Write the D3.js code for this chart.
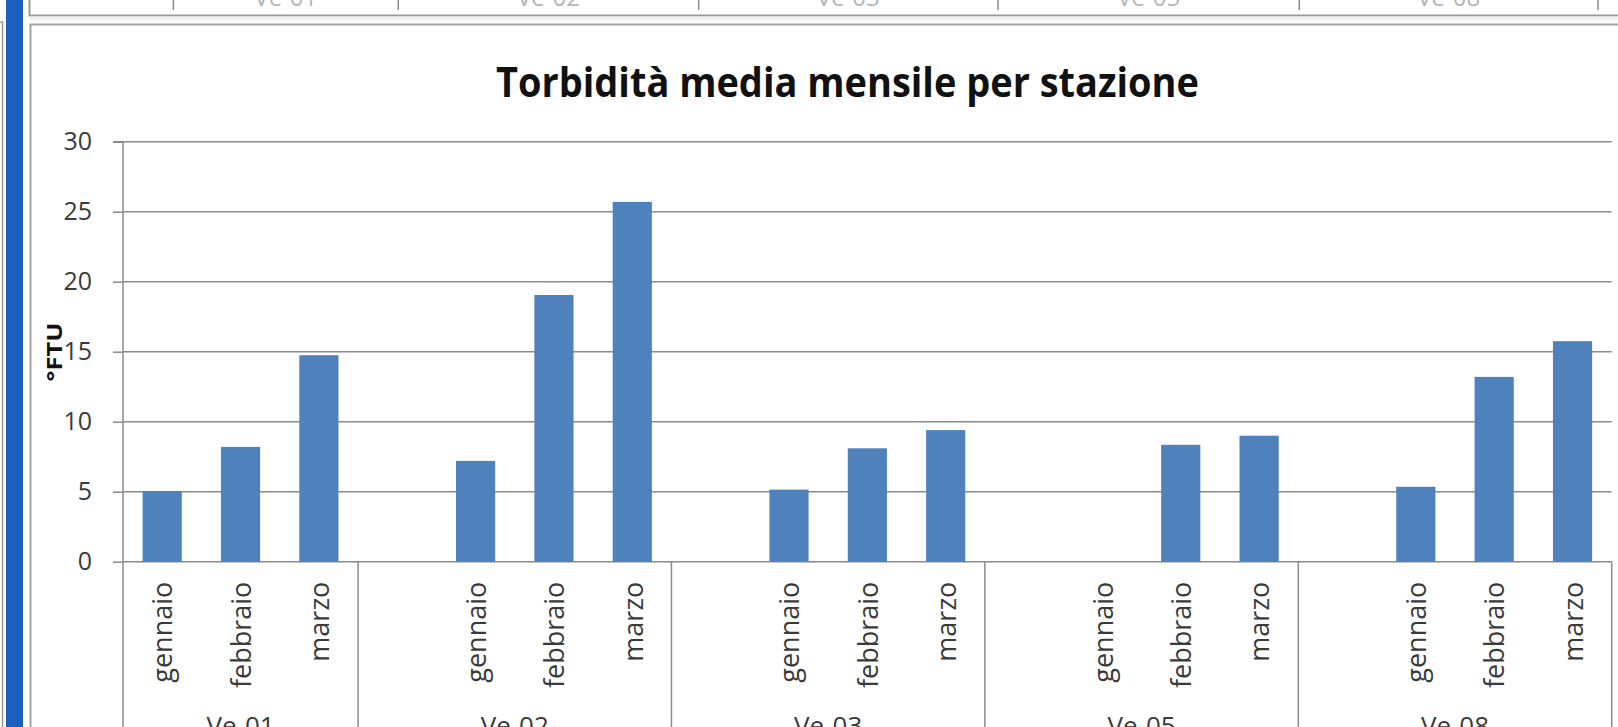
<!DOCTYPE html>
<html><head><meta charset="utf-8">
<script src="https://cdn.jsdelivr.net/npm/d3@7"></script>
<style>html,body{margin:0;padding:0;background:#fff;overflow:hidden}svg{display:block}</style>
</head><body>
<svg id="c" width="1618" height="727"></svg>
<script>
// ---- data ----
const stations = ["Ve-01","Ve-02","Ve-03","Ve-05","Ve-08"];
const slotStation = ["Ve-01","Ve-01","Ve-01","Ve-02","Ve-02","Ve-02","Ve-02","Ve-03","Ve-03","Ve-03","Ve-03","Ve-05","Ve-05","Ve-05","Ve-05","Ve-08","Ve-08","Ve-08","Ve-08"];
const slotMonth = ["gennaio","febbraio","marzo","","gennaio","febbraio","marzo","","gennaio","febbraio","marzo","","gennaio","febbraio","marzo","","gennaio","febbraio","marzo"];
const values = [5.05,8.2,14.75,null,7.2,19.05,25.7,null,5.15,8.1,9.4,null,null,8.35,9.0,null,5.35,13.2,15.75];
const yTicks = [0,5,10,15,20,25,30];
const title = "Torbidità media mensile per stazione";
const yLabel = "°FTU";

// ---- layout ----
const W = 1618, H = 727;
const P = {left:123, right:1611.7, top:141.7, bottom:561.7};
const FONT = "'Open Sans', 'Noto Sans', sans-serif";
const GRID = "#8a8a8a";
const svg = d3.select("#c");

// page decoration: left blue bar, table strip above, chart frame
svg.append("rect").attr("x",0).attr("y",0).attr("width",W).attr("height",H).attr("fill","#fff");
svg.append("path").attr("d","M0,22H2.5V727").attr("fill","none").attr("stroke","#9a9a9a").attr("stroke-width",1.5);
svg.append("rect").attr("x",6).attr("y",0).attr("width",17).attr("height",H).attr("fill","#1c5fbf");
// table strip
svg.append("path").attr("d","M29.5,0V15.5H1618").attr("fill","none").attr("stroke","#9a9a9a").attr("stroke-width",2);
svg.append("rect").attr("x",30).attr("y",16.5).attr("width",W-30).attr("height",4).attr("fill","#efefef");
const tableEdges = [173.4, 398.3, 698.7, 998, 1299.3, 1598];
svg.selectAll("line.tsep").data(tableEdges).join("line").attr("class","tsep")
  .attr("x1",d=>d).attr("x2",d=>d).attr("y1",0).attr("y2",10).attr("stroke","#8a8a8a").attr("stroke-width",1.5);
svg.selectAll("text.thead").data(stations).join("text").attr("class","thead")
  .attr("x",(d,i)=>(tableEdges[i]+tableEdges[i+1])/2).attr("y",6)
  .attr("text-anchor","middle").attr("font-family",FONT).attr("font-size",24).attr("fill","#b5b5b5").text(d=>d);
// chart frame
svg.append("rect").attr("x",30.5).attr("y",24.5).attr("width",W).attr("height",H).attr("fill","#fff")
  .attr("stroke","#a3a3a3").attr("stroke-width",2);

// ---- scales ----
const idx = d3.range(values.length);
const x = d3.scaleBand().domain(idx).range([P.left,P.right]).paddingInner(0.5).paddingOuter(0.25);
const slotX = d3.scaleLinear().domain([0, values.length]).range([P.left,P.right]);
const y = d3.scaleLinear().domain([0,30]).range([P.bottom,P.top]);

// gridlines
svg.append("g").selectAll("line").data(yTicks).join("line")
  .attr("x1",P.left).attr("x2",P.right).attr("y1",d=>y(d)).attr("y2",d=>y(d))
  .attr("stroke",GRID).attr("stroke-width",1.5);

// y axis
const yAxis = svg.append("g").attr("transform",`translate(${P.left},0)`)
  .call(d3.axisLeft(y).tickValues(yTicks).tickSize(10).tickPadding(21).tickFormat(d3.format("d")));
yAxis.select(".domain").attr("stroke",GRID).attr("stroke-width",1.5).attr("d",`M-10,${y(30)}H0V${y(0)}`);
yAxis.selectAll(".tick line").attr("stroke",GRID).attr("stroke-width",1.5);
yAxis.selectAll(".tick text").attr("font-family",FONT).attr("font-size",25).attr("fill","#3a3a3a");

// bars
svg.append("g").selectAll("rect").data(idx.filter(i=>values[i]!=null)).join("rect")
  .attr("x",i=>x(i)).attr("width",x.bandwidth())
  .attr("y",i=>y(values[i])).attr("height",i=>y(0)-y(values[i]))
  .attr("fill","#4f81bd");

// category axis (months)
const xAxis = svg.append("g").attr("transform",`translate(0,${P.bottom})`)
  .call(d3.axisBottom(x).tickSize(0).tickFormat(i=>slotMonth[i]));
xAxis.select(".domain").remove();
xAxis.selectAll(".tick text")
  .attr("font-family",FONT).attr("font-size",27).attr("fill","#3a3a3a")
  .attr("text-anchor","end").attr("y",0).attr("dy","0.38em")
  .attr("transform","translate(0,20) rotate(-90)");

// group separators and station labels
const groups = stations.map(s=>{
  const ids = idx.filter(i=>slotStation[i]===s);
  return {s, start:d3.min(ids), end:d3.max(ids)+1};
});
const seps = [0, ...groups.map(g=>g.end)];
svg.append("g").selectAll("line").data(seps).join("line")
  .attr("x1",d=>slotX(d)).attr("x2",d=>slotX(d)).attr("y1",P.bottom).attr("y2",H+5)
  .attr("stroke",GRID).attr("stroke-width",1.5);
svg.append("g").selectAll("text").data(groups).join("text")
  .attr("x",g=>slotX((g.start+g.end)/2)).attr("y",735)
  .attr("text-anchor","middle").attr("font-family",FONT).attr("font-size",26).attr("fill","#3a3a3a")
  .text(g=>g.s);

// title
svg.append("text").attr("x",847.5).attr("y",96.5).attr("text-anchor","middle")
  .attr("font-family",FONT).attr("font-weight",700).attr("font-size",41).attr("fill","#111")
  .attr("textLength",703).attr("lengthAdjust","spacingAndGlyphs").text(title);

// y label
svg.append("text").attr("transform","translate(62,352) rotate(-90)").attr("text-anchor","middle")
  .attr("font-family",FONT).attr("font-weight",700).attr("font-size",21).attr("fill","#111")
  .attr("textLength",59).attr("lengthAdjust","spacingAndGlyphs").text(yLabel);
</script>
</body></html>
